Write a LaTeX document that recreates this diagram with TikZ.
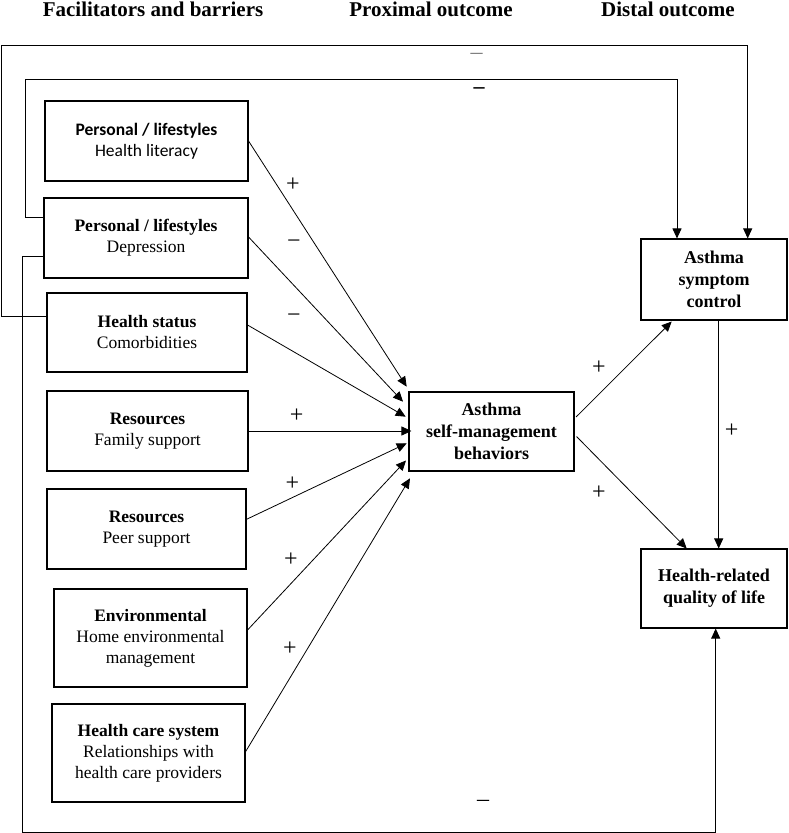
\documentclass[tikz,border=0pt]{standalone}
\usepackage{fontspec}
\setmainfont{Liberation Serif}
\newfontfamily\calfont{Carlito}
\usetikzlibrary{arrows.meta,calc}
\begin{document}
\begin{tikzpicture}[x=1pt,y=-1pt,
  box/.style={draw,line width=1.1pt,inner sep=0pt,align=center,
    font=\fontsize{17.5}{21}\selectfont},
  hdr/.style={font=\bfseries\fontsize{21}{24}\selectfont,anchor=base},
  arr/.style={line width=0.8pt,-{Triangle[length=10pt,width=9pt]}},
  fb/.style={line width=0.9pt,-{Triangle[length=10pt,width=9pt]}},
  sgn/.style={font=\fontsize{24}{26}\selectfont,inner sep=0pt}]
\useasboundingbox (0,0) rectangle (788,833);
% headers
\node[hdr] (h1) at (153,16.5) {Facilitators and barriers};
\node[hdr] (h2) at (431,16.5) {Proximal outcome};
\node[hdr] (h3) at (668,16.5) {Distal outcome};
% left boxes
\node[box,minimum width=203pt,minimum height=80pt,font=\calfont\fontsize{17.5}{21}\selectfont] (b1) at (146.5,141) {\textbf{Personal / lifestyles}\\Health literacy};
\node[box,minimum width=204pt,minimum height=80pt] (b2) at (146,238) {\textbf{Personal / lifestyles}\\Depression};
\node[box,minimum width=200pt,minimum height=79pt] (b3) at (147,332.5) {\textbf{Health status}\\Comorbidities};
\node[box,minimum width=201pt,minimum height=80pt] (b4) at (147.5,431) {\textbf{Resources}\\Family support};
\node[box,minimum width=199pt,minimum height=80pt] (b5) at (146.5,529) {\textbf{Resources}\\Peer support};
\node[box,minimum width=193pt,minimum height=98pt] (b6) at (150.5,638) {\textbf{Environmental}\\Home environmental\\management};
\node[box,minimum width=193pt,minimum height=98pt] (b7) at (148.5,753) {\textbf{Health care system}\\Relationships with\\health care providers};
% central and right boxes
\node[box,minimum width=165pt,minimum height=79pt,font=\bfseries\fontsize{18}{22}\selectfont] (sm) at (491.5,431.5) {Asthma\\self-management\\behaviors};
\node[box,minimum width=146pt,minimum height=81pt,font=\bfseries\fontsize{18}{22}\selectfont] (asc) at (714,279.5) {Asthma\\symptom\\control};
\node[box,minimum width=146pt,minimum height=79pt,font=\bfseries\fontsize{18}{22}\selectfont] (hq) at (714,588.5) {Health-related\\quality of life};
% arrow tips near the central box
\coordinate (t1) at (406.7,386.7);
\coordinate (t2) at (403,401.7);
\coordinate (t3) at (405.7,416.7);
\coordinate (t5) at (406.7,443.3);
\coordinate (t6) at (406,460.5);
\coordinate (t7) at (410,478.3);
\coordinate (t8) at (671.7,321.5);
\coordinate (t9) at (686.7,548.5);
% left arrows
\draw[arr] (b1.east) -- (t1);
\draw[arr] ([yshift=1pt]b2.east) -- (t2);
\draw[arr] ([yshift=7.5pt]b3.east) -- (t3);
\draw[arr] (b4.east) -- ([xshift=3pt]b4.east -| sm.west);
\draw[arr] ([yshift=9.7pt]b5.east) -- (t5);
\draw[arr] ([yshift=8pt]b6.east) -- (t6);
\draw[arr] ([yshift=1.3pt]b7.east) -- (t7);
% right arrows
\draw[arr] ([yshift=14.5pt,xshift=1.5pt]sm.east) -- (t8);
\draw[arr] ([yshift=-5pt,xshift=2pt]sm.east) -- (t9);
\draw[arr] ([xshift=4.7pt]asc.south) -- ([xshift=4.7pt]hq.north);
% feedback lines
\draw[fb] ([yshift=16.5pt]b3.west) -| (1,45) -| ([xshift=33.7pt]asc.north);
\draw[fb] ([yshift=21pt]b2.west) -| (25,79.3) -| ([xshift=-37pt]asc.north);
\draw[fb] ([yshift=-18pt]b2.west) -| (22,832) -| ([xshift=1.7pt]hq.south);
% signs
\node[sgn] (s1) at (293,185) {+};
\node[sgn] (s2) at (294,244) {−};
\node[sgn] (s3) at (294,318.3) {−};
\node[sgn] (s4) at (296.7,415.7) {+};
\node[sgn] (s5) at (292.3,483.3) {+};
\node[sgn] (s6) at (291,559.3) {+};
\node[sgn] (s7) at (290,648.3) {+};
\node[sgn] (s8) at (599,367.7) {+};
\node[sgn] (s9) at (599,492.7) {+};
\node[sgn] (s10) at (731.7,430.7) {+};
\node[sgn,text=gray] (s11) at (476.7,56) {–};
\node[sgn,font=\bfseries\fontsize{22}{26}\selectfont] (s12) at (479,91) {–};
\node[sgn] (s13) at (483,803) {–};
\end{tikzpicture}
\end{document}
